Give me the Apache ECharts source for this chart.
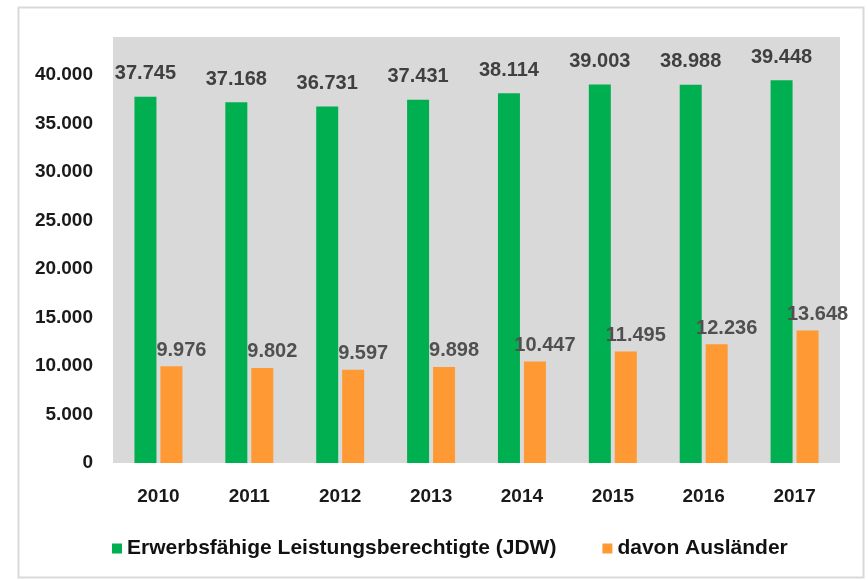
<!DOCTYPE html>
<html>
<head>
<meta charset="utf-8">
<script src="https://cdn.jsdelivr.net/npm/echarts@6/dist/echarts.min.js"></script>
<style>
  html, body { margin: 0; padding: 0; background: #fff; }
  #chart { width: 868px; height: 580px; }
</style>
</head>
<body>
<div id="chart"></div>
<script>
const years = ['2010', '2011', '2012', '2013', '2014', '2015', '2016', '2017'];
const elb = [37745, 37168, 36731, 37431, 38114, 39003, 38988, 39448];
const auslaender = [9976, 9802, 9597, 9898, 10447, 11495, 12236, 13648];
const seriesNames = ['Erwerbsfähige Leistungsberechtigte (JDW)', 'davon Ausländer'];

// Tausenderpunkt wie im Original
const fmt = v => String(v).replace(/\B(?=(\d{3})+(?!\d))/g, '.');
const font = 'Liberation Sans';

const myChart = echarts.init(document.getElementById('chart'));
myChart.setOption({
  animation: false,
  backgroundColor: '#fff',
  graphic: [{
    type: 'rect',
    shape: { x: 18.5, y: 7.5, width: 845, height: 570 },
    style: { fill: 'none', stroke: '#d9d9d9', lineWidth: 2 },
    silent: true
  }],
  grid: {
    left: 113, right: 28, top: 37, bottom: 117,
    show: true, backgroundColor: '#d9d9d9', borderWidth: 0
  },
  legend: {
    top: 533,
    left: 107,
    itemWidth: 10,
    itemHeight: 10,
    itemGap: 46,
    icon: 'rect',
    textStyle: { fontFamily: font, fontWeight: 'bold', fontSize: 21, color: '#111' },
    data: seriesNames
  },
  xAxis: {
    type: 'category',
    data: years,
    axisLine: { show: false },
    axisTick: { show: false },
    axisLabel: { margin: 24, fontFamily: font, fontWeight: 'bold', fontSize: 19, color: '#1a1a1a' }
  },
  yAxis: {
    type: 'value',
    min: 0,
    max: 43900,
    interval: 5000,
    splitLine: { show: false },
    axisLine: { show: false },
    axisTick: { show: false },
    axisLabel: {
      margin: 20,
      showMaxLabel: false,
      fontFamily: font, fontWeight: 'bold', fontSize: 19, color: '#1a1a1a',
      formatter: v => (v % 5000 === 0 ? fmt(v) : '')
    }
  },
  series: [
    {
      name: seriesNames[0],
      type: 'bar',
      data: elb,
      barWidth: 22,
      barGap: '18%',
      itemStyle: { color: '#00b050' },
      label: {
        show: true, position: 'top', distance: 13,
        fontFamily: font, fontWeight: 'bold', fontSize: 20, color: '#404040',
        formatter: p => fmt(p.value)
      }
    },
    {
      name: seriesNames[1],
      type: 'bar',
      data: auslaender,
      barWidth: 22,
      itemStyle: { color: '#ff9933' },
      label: {
        show: true, position: 'top', distance: 6, offset: [10, 0],
        fontFamily: font, fontWeight: 'bold', fontSize: 20, color: '#505050',
        formatter: p => fmt(p.value)
      }
    }
  ]
});
</script>
</body>
</html>
